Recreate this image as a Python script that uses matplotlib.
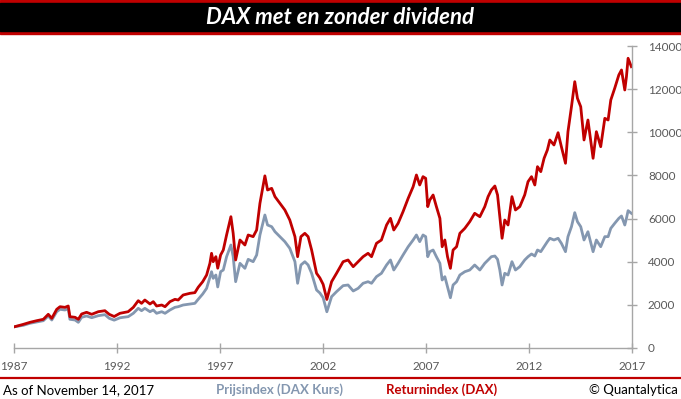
import matplotlib.pyplot as plt
from matplotlib.patches import Rectangle
from matplotlib.lines import Line2D

plt.rcParams['font.family'] = ['Lato', 'DejaVu Sans']

# ----------------------------
# Data (decimal years on the chart's own axis)
# ----------------------------
years = [
    1987.03, 1987.44, 1987.76, 1988.09, 1988.41, 1988.65, 1988.82, 1989.06, 1989.22, 1989.46,
    1989.62, 1989.70, 1989.95, 1990.11, 1990.27, 1990.51, 1990.76, 1991.08, 1991.40, 1991.61,
    1991.85, 1992.13, 1992.29, 1992.53, 1992.78, 1993.02, 1993.18, 1993.34, 1993.59, 1993.75,
    1993.91, 1994.16, 1994.32, 1994.56, 1994.80, 1994.96, 1995.20, 1995.53, 1995.77, 1995.93,
    1996.15, 1996.34, 1996.50, 1996.58, 1996.66, 1996.79, 1996.88, 1997.02, 1997.15, 1997.31,
    1997.52, 1997.63, 1997.75, 1997.96, 1998.20, 1998.36, 1998.60, 1998.77, 1998.93, 1999.17,
    1999.30, 1999.50, 1999.66, 1999.90, 2000.14, 2000.38, 2000.63, 2000.76, 2000.92, 2001.11,
    2001.27, 2001.44, 2001.68, 2001.84, 2002.00, 2002.18, 2002.41, 2002.65, 2002.97, 2003.21,
    2003.46, 2003.70, 2003.94, 2004.18, 2004.35, 2004.59, 2004.83, 2005.08, 2005.27, 2005.43,
    2005.64, 2005.88, 2006.13, 2006.37, 2006.53, 2006.69, 2006.85, 2006.98, 2007.08, 2007.18,
    2007.34, 2007.50, 2007.67, 2007.78, 2007.91, 2008.04, 2008.18, 2008.31, 2008.48, 2008.64,
    2008.88, 2009.12, 2009.36, 2009.61, 2009.85, 2010.01, 2010.17, 2010.34, 2010.47, 2010.58,
    2010.69, 2010.82, 2010.98, 2011.17, 2011.34, 2011.55, 2011.79, 2011.95, 2012.12, 2012.28,
    2012.41, 2012.57, 2012.73, 2012.89, 2013.01, 2013.21, 2013.41, 2013.57, 2013.77, 2013.89,
    2014.06, 2014.22, 2014.35, 2014.51, 2014.67, 2014.86, 2015.11, 2015.27, 2015.48, 2015.68,
    2015.84, 2015.97, 2016.16, 2016.36, 2016.49, 2016.65, 2016.73, 2016.81, 2016.97,
]

# Returnindex (DAX)
returnindex = [
    990, 1097, 1190, 1266, 1330, 1562, 1376, 1793, 1915, 1885,
    1947, 1452, 1423, 1330, 1576, 1655, 1562, 1683, 1729, 1562,
    1460, 1608, 1637, 1683, 1885, 2194, 2070, 2225, 2040, 2148,
    1947, 1993, 1915, 2148, 2256, 2225, 2457, 2535, 2566, 2813,
    3074, 3384, 3926, 4390, 4001, 4233, 3700, 4311, 4543, 5239,
    6087, 5316, 4080, 5007, 4775, 5239, 5162, 5470, 6708, 7980,
    7325, 7402, 7016, 6708, 6398, 5934, 5162, 4233, 5162, 5316,
    5162, 4543, 3463, 3250, 2950, 2250, 3074, 3463, 4001, 4080,
    3770, 4001, 4233, 4390, 4233, 4853, 5007, 5702, 6011, 5470,
    5779, 6320, 6940, 7478, 8020, 7557, 7943, 7866, 6553, 6862,
    7093, 6553, 6011, 4696, 5007, 4233, 3694, 4543, 4696, 5316,
    5547, 5857, 6244, 6087, 6553, 7016, 7325, 7510, 7093, 6087,
    5086, 5934, 5702, 7016, 6398, 6553, 7100, 7710, 7943, 7557,
    8407, 8175, 8794, 9180, 9643, 9411, 9981, 9332, 8563, 10028,
    11187, 12346, 11576, 11187, 9643, 10570, 8794, 10028, 9332, 10647,
    10570, 11497, 12040, 12656, 12888, 11961, 12579, 13431, 13040,
]

# Prijsindex (DAX Kurs)
prijsindex = [
    990, 1052, 1145, 1205, 1266, 1484, 1298, 1683, 1793, 1762,
    1823, 1330, 1298, 1190, 1423, 1484, 1405, 1498, 1545, 1376,
    1290, 1400, 1423, 1452, 1608, 1840, 1729, 1840, 1683, 1762,
    1608, 1683, 1608, 1762, 1885, 1915, 1993, 2040, 2070, 2256,
    2503, 2766, 3276, 3537, 3230, 3384, 2830, 3537, 3616, 4233,
    4775, 4233, 3074, 3926, 3694, 4110, 4001, 4311, 5239, 6166,
    5702, 5624, 5392, 5162, 4930, 4621, 4001, 3000, 3848, 4001,
    3848, 3463, 2689, 2550, 2330, 1680, 2380, 2612, 2890, 2921,
    2643, 2766, 3000, 3074, 3000, 3307, 3463, 3848, 4080, 3616,
    3926, 4311, 4696, 5007, 5239, 4930, 5239, 5162, 4233, 4465,
    4543, 4233, 3926, 3152, 3307, 2843, 2330, 2921, 3074, 3384,
    3537, 3616, 3848, 3616, 3926, 4080, 4233, 4265, 4110, 3616,
    2921, 3463, 3384, 4001, 3616, 3770, 4080, 4233, 4358, 4265,
    4543, 4465, 4696, 4930, 5086, 5007, 5086, 4853, 4465, 5162,
    5624, 6274, 5857, 5624, 5007, 5392, 4465, 5007, 4696, 5162,
    5162, 5547, 5779, 6011, 6120, 5702, 6011, 6367, 6244,
]

x_ticks = [1987, 1992, 1997, 2002, 2007, 2012, 2017]
y_ticks = [0, 2000, 4000, 6000, 8000, 10000, 12000, 14000]

title = "DAX met en zonder dividend"
footer_date = "As of November 14, 2017"
label_prijs = "Prijsindex (DAX Kurs)"
label_return = "Returnindex (DAX)"
footer_copy = "\u00a9 Quantalytica"

RED = '#C00000'
BLUE_GRAY = '#8497B0'
AXIS_GRAY = '#A6A6A6'
TEXT_GRAY = '#595959'

W, H = 681, 399

# ----------------------------
# Figure + axes
# ----------------------------
fig = plt.figure(figsize=(W / 100, H / 100), dpi=100)
ax = fig.add_axes([14.3 / W, 51 / H, (632 - 14.3) / W, 302 / H])

ax.plot(years, prijsindex, color=BLUE_GRAY, lw=2.0, solid_joinstyle='round')
ax.plot(years, returnindex, color=RED, lw=2.0, solid_joinstyle='round')

ax.set_xlim(1987, 2017)
ax.set_ylim(0, 14000)
ax.set_xticks(x_ticks)
ax.set_yticks(y_ticks)
ax.set_xticklabels([str(t) for t in x_ticks])
ax.set_yticklabels([str(t) for t in y_ticks])

ax.yaxis.tick_right()
for side in ['left', 'top']:
    ax.spines[side].set_visible(False)
for side in ['right', 'bottom']:
    ax.spines[side].set_color(AXIS_GRAY)
    ax.spines[side].set_linewidth(1.0)

ax.tick_params(axis='x', direction='inout', length=7, width=1, color=AXIS_GRAY,
               labelsize=8.5, labelcolor=TEXT_GRAY, pad=6)
ax.tick_params(axis='y', direction='inout', length=7, width=1, color=AXIS_GRAY,
               labelsize=8.5, labelcolor=TEXT_GRAY, pad=8)

# ----------------------------
# Title bar
# ----------------------------
fig.patches.append(Rectangle((0, 1 - 34 / H), 1, 34 / H, transform=fig.transFigure,
                             color=RED, zorder=0))
fig.patches.append(Rectangle((0, 1 - 31 / H), 1, 28 / H, transform=fig.transFigure,
                             color='black', zorder=1))
fig.text(0.5, 1 - 17 / H, title, color='white', fontsize=16, fontweight='bold',
         fontstyle='italic', ha='center', va='center')

# ----------------------------
# Footer
# ----------------------------
fig.lines.append(Line2D([0, 1], [1 - 378 / H, 1 - 378 / H], transform=fig.transFigure,
                        color=RED, lw=1.6))
fy = 1 - 390 / H
fig.text(3 / W, fy, footer_date, color='black', fontsize=9.5, ha='left', va='center')
fig.text(216 / W, fy, label_prijs, color=BLUE_GRAY, fontsize=9.5, fontweight='bold',
         ha='left', va='center')
fig.text(386 / W, fy, label_return, color=RED, fontsize=9.5, fontweight='bold',
         ha='left', va='center')
fig.text(678 / W, fy, footer_copy, color='black', fontsize=9.5, ha='right', va='center')

fig.savefig("out.png", dpi=100)
